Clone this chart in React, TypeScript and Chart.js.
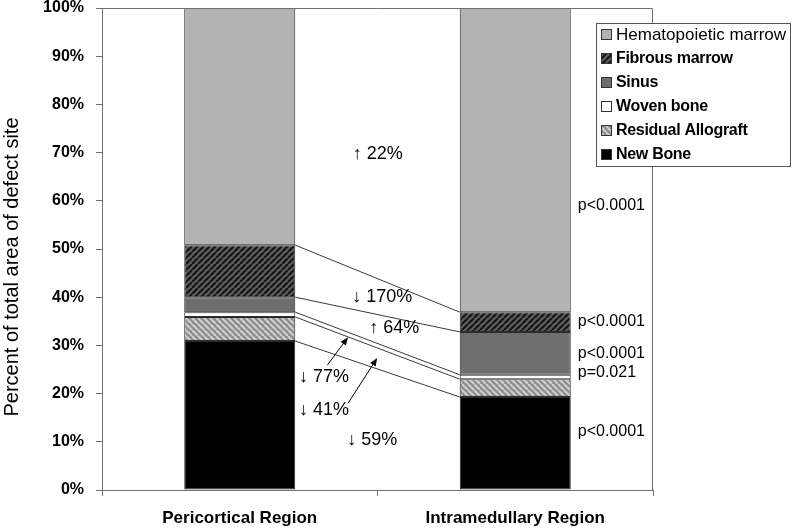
import React, { useEffect, useRef } from 'react';
import { Chart, registerables } from 'chart.js';

Chart.register(...registerables);

// ---------- data ----------
const categories = ['Pericortical Region', 'Intramedullary Region'];
const seriesNames = ['New Bone', 'Residual Allograft', 'Woven bone', 'Sinus', 'Fibrous marrow', 'Hematopoietic marrow'];
const newBone = [30.9, 19.3];
const residualAllograft = [5.0, 3.7];
const wovenBone = [1.0, 0.9];
const sinus = [3.1, 8.9];
const fibrousMarrow = [10.8, 4.1];
const hematopoieticMarrow = [49.2, 63.1];
const yTickValues = [0, 10, 20, 30, 40, 50, 60, 70, 80, 90, 100];
const yAxisTitle = 'Percent of total area of defect site';
const changeLabels = ['\u2191 22%', '\u2193 170%', '\u2191 64%', '\u2193 77%', '\u2193 41%', '\u2193 59%'];
const pValueLabels = ['p<0.0001', 'p<0.0001', 'p<0.0001', 'p=0.021', 'p<0.0001'];

const FONT = '"Liberation Sans", Arial, "DejaVu Sans", sans-serif';

function makeHatch(bg: string, fg: string, dir: '/' | '\\', size: number, lw: number) {
  const c = document.createElement('canvas');
  c.width = size;
  c.height = size;
  const g = c.getContext('2d')!;
  g.fillStyle = bg;
  g.fillRect(0, 0, size, size);
  g.strokeStyle = fg;
  g.lineWidth = lw;
  g.beginPath();
  for (let k = -1; k <= 1; k++) {
    if (dir === '/') {
      g.moveTo(k * size, size);
      g.lineTo(k * size + size, 0);
    } else {
      g.moveTo(k * size, 0);
      g.lineTo(k * size + size, size);
    }
  }
  g.stroke();
  return g.createPattern(c, 'repeat')!;
}

export default function App() {
  const ref = useRef<HTMLCanvasElement>(null);

  useEffect(() => {
    const canvas = ref.current!;
    const fibrousPattern = makeHatch('#5c5c5c', '#141414', '/', 6, 2);
    const allograftPattern = makeHatch('#8e8e8e', '#cfcfcf', '\\', 6, 2);

    const seriesValues = [newBone, residualAllograft, wovenBone, sinus, fibrousMarrow, hematopoieticMarrow];
    const fills: any[] = ['#000000', allograftPattern, '#ffffff', '#6e6e6e', fibrousPattern, '#b3b3b3'];
    const boldLegend = [true, true, true, true, true, false];

    const datasets = seriesNames.map((name, i) => ({
      label: name,
      data: seriesValues[i],
      backgroundColor: fills[i],
      borderColor: '#2a2a2a',
      borderWidth: 1,
      borderSkipped: false as const,
      categoryPercentage: 1,
      barPercentage: 0.403,
      stack: 's',
    }));

    const overlay = {
      id: 'overlay',
      afterDatasetsDraw(chart: any) {
        const ctx = chart.ctx;
        const ca = chart.chartArea;
        const xs = chart.scales.x;
        const ys = chart.scales.y;
        ctx.save();
        // series lines connecting segment tops
        ctx.strokeStyle = '#3a3a3a';
        ctx.lineWidth = 1;
        for (let d = 0; d < chart.data.datasets.length - 1; d++) {
          const meta = chart.getDatasetMeta(d);
          const a = meta.data[0].getProps(['x', 'y', 'width'], true);
          const b = meta.data[1].getProps(['x', 'y', 'width'], true);
          ctx.beginPath();
          ctx.moveTo(a.x + a.width / 2, a.y);
          ctx.lineTo(b.x - b.width / 2, b.y);
          ctx.stroke();
        }
        // plot frame (top and right)
        ctx.strokeStyle = '#6f6f6f';
        ctx.beginPath();
        ctx.moveTo(ca.left, ca.top + 0.5);
        ctx.lineTo(ca.right - 0.5, ca.top + 0.5);
        ctx.lineTo(ca.right - 0.5, ca.bottom);
        ctx.stroke();

        const x0 = xs.getPixelForValue(0);
        const x1 = xs.getPixelForValue(1);
        const px = (t: number) => x0 + (x1 - x0) * t;

        // change annotations
        const changePos = [
          [0.41, 69.7],
          [0.408, 40.0],
          [0.47, 33.6],
          [0.215, 23.4],
          [0.215, 16.6],
          [0.39, 10.4],
        ];
        ctx.fillStyle = '#000';
        ctx.font = `18px ${FONT}`;
        ctx.textAlign = 'left';
        ctx.textBaseline = 'middle';
        changeLabels.forEach((lab, i) => {
          ctx.fillText(lab, px(changePos[i][0]), ys.getPixelForValue(changePos[i][1]));
        });

        // arrows
        const arrows = [
          [0.318, 25.9, 0.393, 31.7],
          [0.393, 18.0, 0.499, 27.4],
        ];
        ctx.strokeStyle = '#000';
        ctx.lineWidth = 1;
        arrows.forEach(([t0, v0, t1, v1]) => {
          const ax = px(t0), ay = ys.getPixelForValue(v0);
          const bx = px(t1), by = ys.getPixelForValue(v1);
          const ang = Math.atan2(by - ay, bx - ax);
          const hl = 8, hw = 3.2;
          ctx.beginPath();
          ctx.moveTo(ax, ay);
          ctx.lineTo(bx - Math.cos(ang) * hl * 0.8, by - Math.sin(ang) * hl * 0.8);
          ctx.stroke();
          ctx.beginPath();
          ctx.moveTo(bx, by);
          ctx.lineTo(bx - Math.cos(ang) * hl - Math.sin(ang) * hw, by - Math.sin(ang) * hl + Math.cos(ang) * hw);
          ctx.lineTo(bx - Math.cos(ang) * hl + Math.sin(ang) * hw, by - Math.sin(ang) * hl - Math.cos(ang) * hw);
          ctx.closePath();
          ctx.fill();
        });

        // p-values
        const bar2 = chart.getDatasetMeta(0).data[1].getProps(['x', 'width'], true);
        const pY = [59, 34.9, 28.3, 24.3, 12.2];
        ctx.font = `16px ${FONT}`;
        pValueLabels.forEach((lab, i) => {
          ctx.fillText(lab, bar2.x + bar2.width / 2 + 7, ys.getPixelForValue(pY[i]));
        });

        // y axis title
        ctx.save();
        ctx.translate(12, (ca.top + ca.bottom) / 2 + 18);
        ctx.rotate(-Math.PI / 2);
        ctx.textAlign = 'center';
        ctx.textBaseline = 'middle';
        ctx.font = `20px ${FONT}`;
        ctx.fillText(yAxisTitle, 0, 0);
        ctx.restore();

        // legend
        const lx = 596, ly = 23, lw = 195, lh = 144;
        ctx.fillStyle = '#fff';
        ctx.fillRect(lx, ly, lw, lh);
        ctx.strokeStyle = '#555';
        ctx.strokeRect(lx + 0.5, ly + 0.5, lw - 1, lh - 1);
        const n = chart.data.datasets.length;
        for (let r = 0; r < n; r++) {
          const d = n - 1 - r;
          const ds = chart.data.datasets[d];
          const cy = ly + 12 + r * 24;
          ctx.fillStyle = ds.backgroundColor;
          ctx.fillRect(601, cy - 6, 11, 11);
          ctx.strokeStyle = '#333';
          ctx.strokeRect(601.5, cy - 5.5, 10, 10);
          ctx.fillStyle = '#000';
          ctx.textAlign = 'left';
          ctx.textBaseline = 'middle';
          if (boldLegend[d]) {
            ctx.font = `bold 16px ${FONT}`;
            (ctx as any).letterSpacing = '-0.3px';
          } else {
            ctx.font = `17px ${FONT}`;
            (ctx as any).letterSpacing = '0px';
          }
          ctx.fillText(ds.label, 616, cy);
        }
        (ctx as any).letterSpacing = '0px';
        ctx.restore();
      },
    };

    const chart = new Chart(canvas, {
      type: 'bar',
      data: { labels: categories, datasets },
      options: {
        animation: false,
        responsive: true,
        maintainAspectRatio: false,
        layout: { padding: { top: 8, right: 139, left: 0, bottom: 0 } },
        plugins: { legend: { display: false }, tooltip: { enabled: false }, title: { display: false } },
        scales: {
          x: {
            stacked: true,
            grid: { display: true, drawOnChartArea: false, drawTicks: true, tickLength: 6, color: '#6f6f6f', offset: true },
            border: { display: true, color: '#6f6f6f' },
            ticks: { color: '#000', font: { family: FONT, size: 17, weight: 'bold' }, padding: 12, maxRotation: 0 },
            afterFit: (s: any) => {
              s.height = 38;
              s.paddingLeft = 0;
              s.paddingRight = 0;
            },
          },
          y: {
            stacked: true,
            min: 0,
            max: 100,
            afterBuildTicks: (s: any) => { s.ticks = yTickValues.map((v) => ({ value: v })); },
            grid: { display: true, drawOnChartArea: false, drawTicks: true, tickLength: 6, color: '#6f6f6f' },
            border: { display: true, color: '#6f6f6f' },
            ticks: {
              color: '#000',
              font: { family: FONT, size: 16, weight: 'bold' },
              padding: 12,
              callback: (v: any) => v + '%',
            },
            afterFit: (s: any) => {
              s.width = 102;
              s.paddingTop = 0;
              s.paddingBottom = 0;
            },
          },
        },
      },
      plugins: [overlay],
    });
    return () => chart.destroy();
  }, []);

  return (
    <div style={{ position: 'fixed', left: 0, top: 0, width: 792, height: 528, background: '#fff' }}>
      <canvas ref={ref} />
    </div>
  );
}
